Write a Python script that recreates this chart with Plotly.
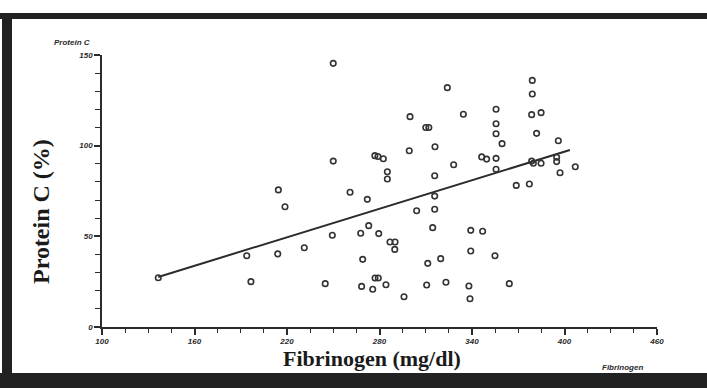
import plotly.graph_objects as go

# Data (Fibrinogen mg/dl vs Protein C %)
fibrinogen = [136.5, 214.4, 218.7, 193.9, 214.0, 231.2, 196.6, 250.0, 299.8, 310.0,
              312.0, 299.3, 277.0, 279.0, 282.5, 250.0, 285.1, 285.1, 260.9, 272.1,
              304.1, 273.0, 249.4, 267.8, 279.5, 286.8, 290.1, 289.9, 269.1, 311.3,
              277.1, 279.2, 244.8, 268.4, 275.6, 284.2, 295.9, 310.6, 324.0, 334.4,
              355.6, 355.6, 355.6, 359.5, 316.0, 346.3, 349.5, 355.6, 328.1, 315.8,
              355.6, 368.7, 315.8, 315.8, 314.5, 339.2, 346.9, 339.2, 354.9, 319.7,
              323.1, 338.0, 338.7, 364.2, 379.1, 379.1, 378.7, 384.8, 381.9, 396.0,
              378.7, 379.8, 384.8, 394.9, 394.9, 397.1, 407.0, 377.2]
protein_c = [27.2, 75.6, 66.3, 39.3, 40.3, 43.7, 25.0, 145.4, 116.0, 110.0,
             110.0, 97.2, 94.5, 94.0, 92.8, 91.5, 85.6, 81.6, 74.3, 70.4,
             64.1, 55.9, 50.6, 51.7, 51.5, 46.9, 46.9, 42.8, 37.3, 35.1,
             27.0, 27.0, 23.9, 22.4, 20.8, 23.3, 16.7, 23.2, 132.0, 117.3,
             120.1, 112.1, 106.6, 101.1, 99.4, 93.8, 92.6, 93.0, 89.5, 83.4,
             87.0, 78.1, 72.2, 64.9, 54.8, 53.3, 52.8, 41.9, 39.3, 37.7,
             24.7, 22.6, 15.6, 23.9, 136.0, 128.5, 117.1, 118.2, 106.8, 102.7,
             91.5, 90.3, 90.3, 93.6, 91.2, 85.1, 88.4, 78.9]

# Regression line end points
fit_x = [136.5, 403.5]
fit_y = [27.6, 97.6]

x_ticks = [100, 160, 220, 280, 340, 400, 460]
y_ticks = [0, 50, 100, 150]

W, H = 707, 388
L, R, T, B = 102, 50, 55, 61
PW, PH = W - L - R, H - T - B

def px(x):
    return (x - L) / PW

def py(y):
    return (H - B - y) / PH

ink = "#2b2b2b"
tickfont = dict(family="Liberation Sans", size=8, color=ink, weight="bold", style="italic")

fig = go.Figure()
fig.add_trace(go.Scatter(
    x=fit_x, y=fit_y, mode="lines",
    line=dict(color=ink, width=2), hoverinfo="skip", showlegend=False))
fig.add_trace(go.Scatter(
    x=fibrinogen, y=protein_c, mode="markers",
    marker=dict(symbol="circle-open", size=5.5, color="#333333", line=dict(width=1.6, color="#333333")),
    showlegend=False, cliponaxis=False))

fig.update_xaxes(
    range=[100, 460], tickvals=x_ticks, ticktext=[str(v) for v in x_ticks],
    showgrid=False, zeroline=False, showline=True, linecolor=ink, linewidth=1.5,
    ticks="outside", ticklen=6, tickwidth=1.5, tickcolor=ink, tickfont=tickfont,
    minor=dict(dtick=15, tick0=100, ticks="outside", ticklen=4, tickwidth=1.2, tickcolor=ink))
fig.update_yaxes(
    range=[0, 150], tickvals=y_ticks, ticktext=[str(v) for v in y_ticks],
    showgrid=False, zeroline=False, showline=True, linecolor=ink, linewidth=1.5,
    ticks="outside", ticklen=6, tickwidth=1.5, tickcolor=ink, tickfont=tickfont,
    minor=dict(dtick=10, tick0=0, ticks="outside", ticklen=5, tickwidth=1.2, tickcolor=ink))

annotations = [
    dict(text="Protein C", x=px(52), y=py(43), xanchor="left", yanchor="middle",
         font=dict(family="Liberation Sans", size=8, color=ink, weight="bold", style="italic")),
    dict(text="Fibrinogen", x=px(600), y=py(367), xanchor="left", yanchor="middle",
         font=dict(family="Liberation Sans", size=8, color=ink, weight="bold", style="italic")),
    dict(text="Fibrinogen (mg/dl)", x=px(372), y=py(358), xanchor="center", yanchor="middle",
         font=dict(family="Liberation Serif", size=22, color="#1a1a1a", weight="bold")),
    dict(text="Protein C (%)", x=px(41), y=py(212), xanchor="center", yanchor="middle",
         textangle=-90,
         font=dict(family="Liberation Serif", size=24, color="#1a1a1a", weight="bold")),
]
for a in annotations:
    a.update(xref="paper", yref="paper", showarrow=False)

shapes = [
    # scanned frame: top, left, bottom
    dict(type="rect", x0=px(0), x1=px(707), y0=py(19), y1=py(13)),
    dict(type="rect", x0=px(2), x1=px(12), y0=py(388), y1=py(13)),
    dict(type="rect", x0=px(0), x1=px(707), y0=py(388), y1=py(373)),
]
for s in shapes:
    s.update(xref="paper", yref="paper", fillcolor="#222222", line=dict(width=0), layer="below")

fig.update_layout(
    width=W, height=H, margin=dict(l=L, r=R, t=T, b=B),
    paper_bgcolor="white", plot_bgcolor="white",
    annotations=annotations, shapes=shapes, showlegend=False)

fig.write_html("out.html", config={"displayModeBar": False},
               post_script="document.body.style.margin='0';document.body.style.overflow='hidden';")
